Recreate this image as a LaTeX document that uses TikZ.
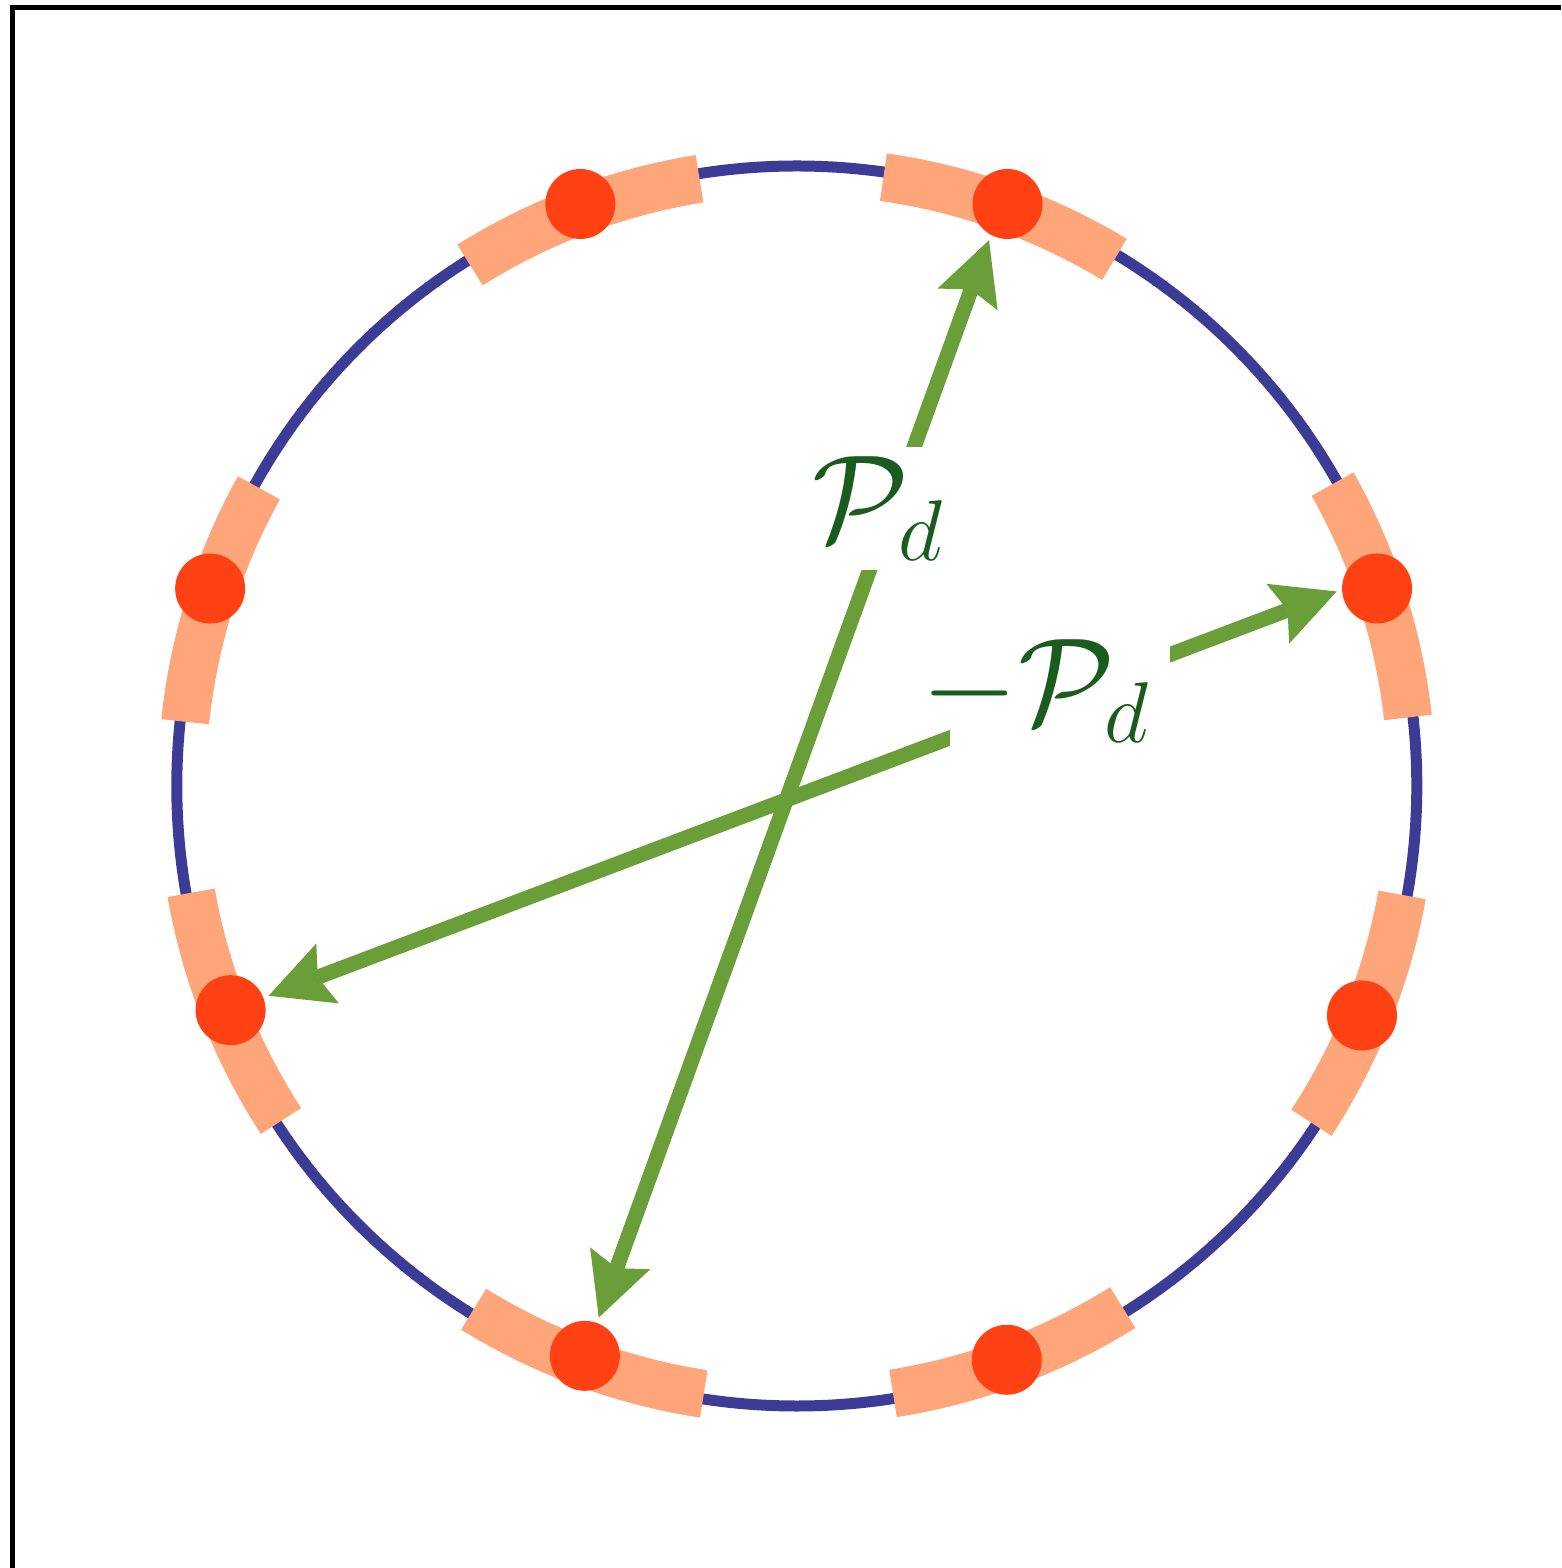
\documentclass[tikz,border=0pt]{standalone}
\usepackage{amsmath,amssymb}
\usepackage{tikz}
\usetikzlibrary{arrows.meta}
\usepackage{xcolor}
\DeclareMathSizes{24.88}{24.88}{17.28}{14.4}

\definecolor{ringblue}{RGB}{60,60,150}
\definecolor{bandsalmon}{RGB}{255,165,122}
\definecolor{dotred}{RGB}{255,65,20}
\definecolor{arrowgreen}{RGB}{105,158,56}
\definecolor{labelgreen}{RGB}{25,92,30}

\begin{document}
\begin{tikzpicture}[
  ring/.style={ringblue,line width=0.11cm},
  band/.style={bandsalmon,line width=0.48cm,line cap=butt},
  reddot/.style={circle,fill=dotred,minimum size=0.7cm,inner sep=0pt},
  parrow/.style={arrowgreen,line width=0.15cm,shorten <=0.05cm,shorten >=0.05cm,
    {Stealth[length=0.63cm,width=0.64cm,inset=0.105cm,line width=0pt]}-{Stealth[length=0.63cm,width=0.64cm,inset=0.105cm,line width=0pt]}},
  plabel/.style={fill=white,text=labelgreen,inner xsep=0.09cm,inner ysep=0.07cm,font=\Huge,scale=1.42,transform shape}
]
\useasboundingbox (-7.968,-7.82) rectangle (7.642,7.86);
\draw[line width=0.05cm] (-7.843,-7.82) -- (-7.843,7.785) -- (7.642,7.785);

\draw[ring] (0,0) circle[radius=6.2];
% dots and their bands: name/dot angle/dot radius/band angle
\foreach \n/\a/\r/\b in {1/70.1/6.19/70.4, 2/110.4/6.21/110.6, 3/161.4/6.19/162.5, 4/18.8/6.13/17.9,
                         5/201.6/6.09/201.5, 6/-22.1/6.10/-21.7, 7/249.6/6.08/249.8, 8/290.1/6.11/290.5}{
  \draw[band] (\b-11.5:6.15) arc[start angle=\b-11.5,end angle=\b+11.5,radius=6.15];
  \node[reddot] (dt\n) at (\a:\r) {};
}

\draw[parrow] (dt7) -- (dt1.242);
\draw[parrow] (dt5) -- (dt4.182);
\node[plabel] (pplus) at (0.822,2.775) {$\mathcal{P}_d$};
\node[plabel,inner xsep=-0.197cm] (pminus) at (2.632,0.95) {$-\mathcal{P}_d\hspace{0.33cm}$};
\end{tikzpicture}
\end{document}
